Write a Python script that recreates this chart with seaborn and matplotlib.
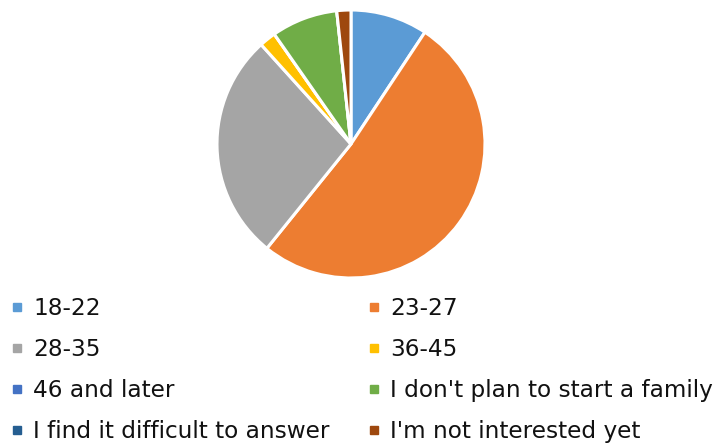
import matplotlib
matplotlib.use("Agg")
import matplotlib.pyplot as plt
from matplotlib.lines import Line2D
import seaborn as sns

# Preferred age for starting a family (share of respondents, %)
categories = [
    "18-22",
    "23-27",
    "28-35",
    "36-45",
    "46 and later",
    "I don't plan to start a family",
    "I find it difficult to answer",
    "I'm not interested yet",
]
shares = [9.3, 51.5, 27.5, 2.0, 0.0, 8.0, 0.0, 1.7]
colors = ["#5B9BD5", "#ED7D31", "#A5A5A5", "#FFC000",
          "#4472C4", "#70AD47", "#255E91", "#9E480E"]

sns.set_theme(style="white")
plt.rcParams["font.family"] = ["DejaVu Sans"]
palette = sns.color_palette(colors)

W, H = 714, 445
fig = plt.figure(figsize=(W / 100, H / 100), dpi=100)
fig.patch.set_facecolor("white")

# Pie placed by pixel geometry: centre (351, 144), radius 134
cx, cy, r = 351, 144, 134
ax = fig.add_axes([(cx - r) / W, (H - (cy + r)) / H, 2 * r / W, 2 * r / H])
ax.pie(shares, colors=palette, startangle=90, counterclock=False,
       radius=1.0, wedgeprops=dict(edgecolor="white", linewidth=2.2))
ax.set_xlim(-1.0, 1.0)
ax.set_ylim(-1.0, 1.0)
ax.set_aspect("equal")
ax.axis("off")

fs = 16.7


def handle(c):
    return Line2D([], [], linestyle="none", marker="s", markersize=5.2,
                  markerfacecolor=c, markeredgecolor=c)


handles = [handle(c) for c in palette]

# Two legend columns, filled row by row
left_idx = [0, 2, 4, 6]
right_idx = [1, 3, 5, 7]
common = dict(frameon=False, fontsize=fs, handlelength=0.6, handletextpad=0.4,
              labelspacing=0.78, borderpad=0.0, borderaxespad=0.0,
              loc="upper left")
top_y = (H - 297) / H
leg1 = fig.legend([handles[i] for i in left_idx],
                  [categories[i] for i in left_idx],
                  bbox_to_anchor=(10 / W, top_y), **common)
leg2 = fig.legend([handles[i] for i in right_idx],
                  [categories[i] for i in right_idx],
                  bbox_to_anchor=(367 / W, top_y), **common)
for leg in (leg1, leg2):
    for t in leg.get_texts():
        t.set_color("#111111")

fig.savefig("out.png", dpi=100, facecolor="white")
